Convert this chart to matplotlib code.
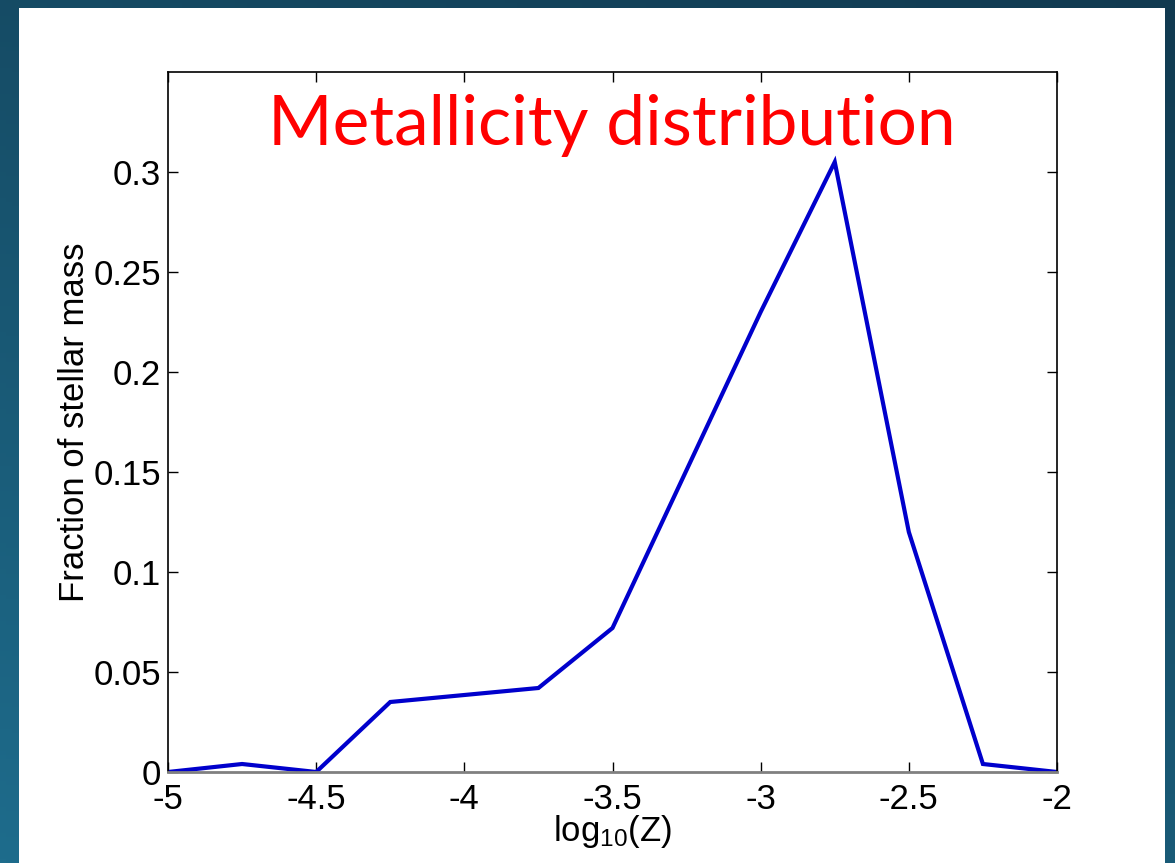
import matplotlib
matplotlib.use("Agg")

import numpy as np
import matplotlib.pyplot as plt
from matplotlib.patches import Rectangle

# metallicity bins (log10 Z) and fraction of stellar mass
log_z = [-5.0, -4.75, -4.5, -4.25, -4.0, -3.75, -3.5, -3.25, -3.0, -2.75, -2.5, -2.25, -2.0]
frac_mass = [0.0, 0.004, 0.0, 0.035, 0.0385, 0.042, 0.072, 0.151, 0.230, 0.305, 0.120, 0.004, 0.0]

x_ticks = [-5, -4.5, -4, -3.5, -3, -2.5, -2]
x_tick_labels = ["-5", "-4.5", "-4", "-3.5", "-3", "-2.5", "-2"]
y_ticks = [0, 0.05, 0.1, 0.15, 0.2, 0.25, 0.3]
y_tick_labels = ["0", "0.05", "0.1", "0.15", "0.2", "0.25", "0.3"]

plt.rcParams["mathtext.fontset"] = "custom"
plt.rcParams["mathtext.rm"] = "Liberation Sans"
plt.rcParams["mathtext.it"] = "Liberation Sans"

W, H = 1175, 863
fig = plt.figure(figsize=(W / 100, H / 100), dpi=100)

# slide background: diagonal blue gradient
bg = fig.add_axes([0, 0, 1, 1], zorder=-10)
yy, xx = np.mgrid[0:1:200j, 0:1:200j]
t = np.clip(0.65 * yy + 0.35 * (1 - xx), 0, 1)  # yy=0 is top row
dark = np.array([17, 58, 80]) / 255
light = np.array([30, 108, 140]) / 255
img = dark[None, None, :] * (1 - t[..., None]) + light[None, None, :] * t[..., None]
bg.imshow(img, aspect="auto", extent=[0, 1, 0, 1])
bg.add_patch(Rectangle((19 / W, 0), (1165 - 19) / W, (H - 8) / H,
                       facecolor="white", edgecolor="none", transform=bg.transAxes))
bg.set_axis_off()

ax = fig.add_axes([168 / W, (H - 772) / H, (1057 - 168) / W, (772 - 72) / H])
ax.plot(log_z, frac_mass, color="#0000cc", linewidth=3, solid_joinstyle="miter")

ax.set_xlim(-5, -2)
ax.set_ylim(0, 0.35)
ax.set_xticks(x_ticks)
ax.set_xticklabels(x_tick_labels)
ax.set_yticks(y_ticks)
ax.set_yticklabels(y_tick_labels)

font = "Liberation Sans"
ax.tick_params(direction="in", length=7, width=1, top=True, right=True,
               labelsize=25, pad=5)
for lab in ax.get_xticklabels() + ax.get_yticklabels():
    lab.set_fontfamily(font)
ax.xaxis.set_tick_params(pad=8)
for s in ["left", "top", "right"]:
    ax.spines[s].set_color("black")
    ax.spines[s].set_linewidth(1.2)
ax.spines["bottom"].set_color("#808080")
ax.spines["bottom"].set_linewidth(2)

ax.set_xlabel(r"log$_{10}$(Z)", fontsize=25, fontfamily=font, labelpad=-2)
ax.set_ylabel("Fraction of stellar mass", fontsize=25, fontfamily=font, labelpad=2)

fig.text(612 / W, (H - 145) / H, "Metallicity distribution", color="red",
         fontsize=50, fontfamily="Lato", ha="center", va="baseline")

fig.savefig("out.png", dpi=100)
print("saved: out.png")
